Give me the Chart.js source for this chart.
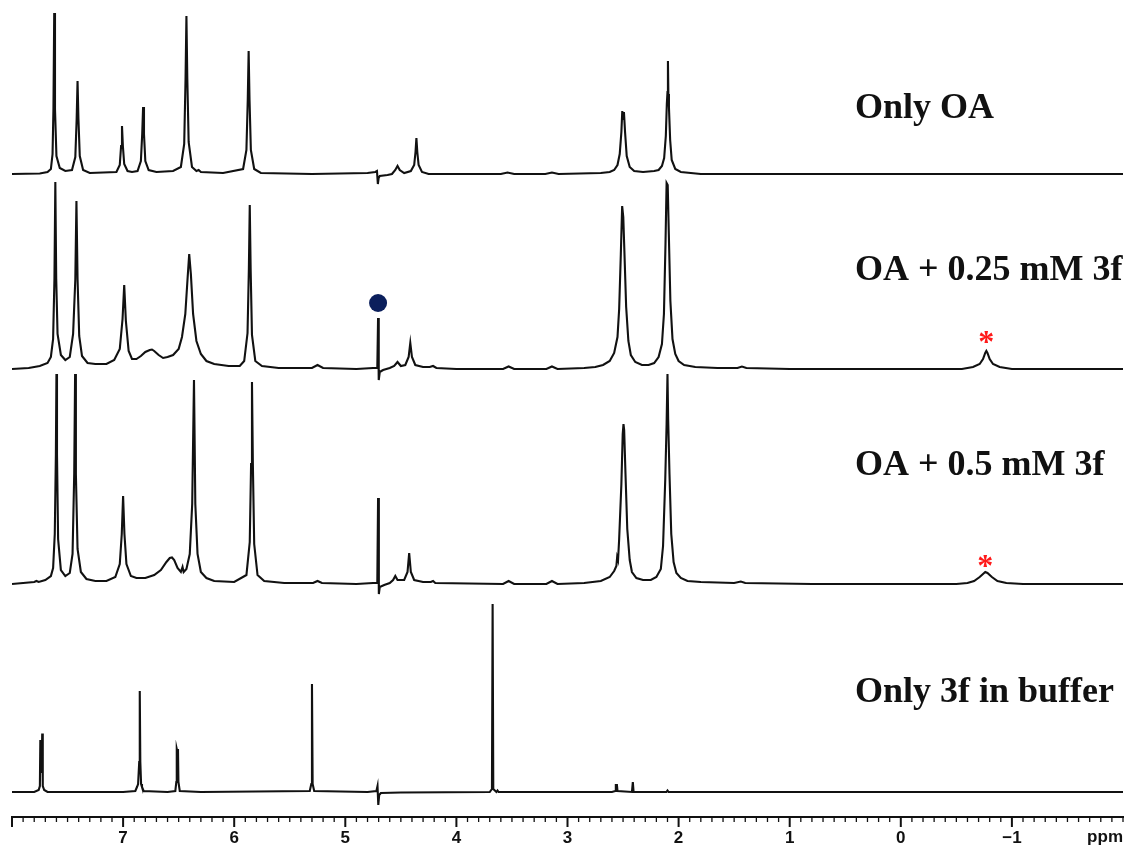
<!DOCTYPE html>
<html>
<head>
<meta charset="utf-8">
<title>1H NMR stack</title>
<script src="https://cdn.jsdelivr.net/npm/chart.js@4.4.0/dist/chart.umd.min.js"></script>
<style>
  html, body { margin: 0; padding: 0; background: #fff; }
  canvas { display: block; }
</style>
</head>
<body>
<canvas id="nmr" width="1135" height="852"></canvas>
<script>
'use strict';

// spectra as [ppm, intensity] vertices (top to bottom)
let onlyOA = [
  [8.00, 0], [7.75, 0.5], [7.68, 2], [7.65, 5], [7.635, 20], [7.627, 65], [7.62, 161], [7.613, 65], [7.60, 18], [7.57, 6], [7.52, 3],
  [7.46, 4], [7.43, 17], [7.418, 55], [7.41, 93], [7.402, 55], [7.39, 18], [7.36, 4], [7.30, 1],
  [7.06, 2], [7.03, 9], [7.018, 28], [7.01, 48], [7.002, 28], [6.99, 10], [6.96, 3], [6.92, 2],
  [6.87, 3], [6.84, 13], [6.828, 40], [6.82, 67], [6.812, 40], [6.80, 13], [6.77, 4], [6.70, 2], [6.55, 3],
  [6.48, 7], [6.45, 30], [6.438, 95], [6.43, 158], [6.422, 95], [6.41, 32], [6.38, 7], [6.34, 3], [6.32, 4], [6.30, 2], [6.10, 1],
  [5.92, 5], [5.89, 24], [5.878, 74], [5.87, 123], [5.862, 74], [5.85, 24], [5.82, 5], [5.76, 1],
  [5.30, 0], [4.80, 1], [4.73, 2], [4.715, 3], [4.707, -10], [4.70, -4], [4.69, -2], [4.62, -1],
  [4.58, 0], [4.55, 4], [4.53, 8], [4.51, 4], [4.47, 1],
  [4.41, 3], [4.38, 9], [4.368, 22], [4.36, 36], [4.352, 22], [4.34, 9], [4.31, 2], [4.25, 0],
  [3.60, 0], [3.54, 1.5], [3.48, 0], [3.20, 0], [3.14, 1.5], [3.08, 0],
  [2.70, 1], [2.62, 2], [2.58, 4], [2.55, 9], [2.53, 20], [2.515, 42], [2.507, 63], [2.499, 55], [2.492, 62], [2.482, 42], [2.467, 18], [2.44, 7], [2.40, 3], [2.32, 2], [2.22, 3],
  [2.18, 4], [2.15, 8], [2.13, 16], [2.115, 38], [2.106, 70], [2.10, 82], [2.096, 113], [2.092, 80], [2.087, 67], [2.076, 34], [2.062, 14], [2.03, 5], [1.98, 2], [1.80, 0],
  [1.40, 0], [-2.00, 0]
];

let oaLow = [
  [8.00, 0], [7.85, 1], [7.75, 3], [7.68, 6], [7.65, 12], [7.63, 30], [7.618, 90], [7.61, 187], [7.602, 90], [7.59, 35], [7.56, 14], [7.52, 9],
  [7.48, 12], [7.45, 35], [7.43, 90], [7.42, 168], [7.41, 90], [7.395, 33], [7.37, 13], [7.32, 6], [7.25, 5], [7.15, 5], [7.08, 9],
  [7.03, 20], [7.005, 50], [6.99, 84], [6.975, 48], [6.95, 18], [6.92, 10], [6.88, 10], [6.84, 13], [6.80, 17], [6.76, 19], [6.74, 19.5], [6.72, 18], [6.68, 14], [6.64, 11],
  [6.60, 12], [6.55, 14], [6.50, 20], [6.47, 32], [6.44, 55], [6.42, 90], [6.405, 115], [6.39, 95], [6.37, 55], [6.34, 28], [6.30, 15], [6.25, 8], [6.18, 5], [6.05, 3], [5.95, 3],
  [5.91, 8], [5.88, 36], [5.868, 100], [5.86, 164], [5.852, 100], [5.84, 34], [5.81, 8], [5.75, 3], [5.60, 1], [5.30, 1], [5.25, 4], [5.20, 1], [4.90, 0], [4.75, 1],
  [4.712, 1], [4.705, 51], [4.699, -11], [4.69, -3], [4.66, -1], [4.60, 1], [4.56, 3], [4.53, 7], [4.50, 3], [4.46, 4], [4.43, 12], [4.415, 26], [4.40, 12], [4.37, 4],
  [4.30, 2], [4.24, 2], [4.21, 3], [4.18, 1], [4.00, 0], [3.58, 0], [3.53, 2.5], [3.48, 0], [3.19, 0], [3.14, 2.5], [3.09, 0], [2.85, 1], [2.75, 2], [2.68, 4],
  [2.62, 8], [2.58, 16], [2.55, 32], [2.535, 60], [2.52, 115], [2.508, 163], [2.498, 152], [2.488, 118], [2.472, 62], [2.452, 28], [2.43, 14], [2.39, 7], [2.33, 4], [2.27, 4],
  [2.22, 6], [2.18, 12], [2.15, 25], [2.132, 55], [2.118, 125], [2.108, 186], [2.098, 184], [2.088, 135], [2.074, 68], [2.055, 30], [2.03, 15], [2.00, 8], [1.95, 4], [1.85, 2],
  [1.65, 1], [1.47, 1], [1.43, 2.5], [1.39, 1], [1.00, 0],
  [-0.55, 0], [-0.65, 2], [-0.71, 5], [-0.74, 10], [-0.76, 16], [-0.77, 18], [-0.78, 16], [-0.80, 10], [-0.83, 5], [-0.89, 2], [-1.00, 0], [-2.00, 0]
];

let oaHigh = [
  [8.00, 0], [7.90, 1], [7.80, 2], [7.78, 3], [7.76, 2], [7.70, 4], [7.65, 8], [7.63, 16], [7.615, 50], [7.605, 130], [7.60, 210], [7.595, 130], [7.585, 45], [7.56, 14], [7.52, 8],
  [7.48, 11], [7.455, 30], [7.44, 110], [7.432, 210], [7.425, 110], [7.41, 35], [7.38, 12], [7.33, 5], [7.25, 3], [7.15, 3],
  [7.07, 7], [7.03, 20], [7.012, 50], [7.00, 88], [6.988, 50], [6.97, 20], [6.93, 8], [6.88, 6], [6.80, 6], [6.72, 9], [6.66, 14], [6.61, 22], [6.58, 26], [6.56, 26.5], [6.54, 24],
  [6.51, 16], [6.48, 12], [6.465, 17], [6.455, 12], [6.43, 15], [6.40, 30], [6.378, 80], [6.362, 204], [6.35, 80], [6.33, 30], [6.30, 12], [6.25, 6], [6.18, 3], [6.00, 2],
  [5.89, 9], [5.86, 42], [5.848, 120], [5.84, 202], [5.832, 120], [5.82, 40], [5.79, 9], [5.73, 3], [5.55, 1], [5.29, 1], [5.25, 3], [5.21, 1], [4.90, 0], [4.75, 1],
  [4.712, 1], [4.705, 86], [4.698, -10], [4.69, -3], [4.65, -1], [4.60, 1], [4.57, 4], [4.55, 8], [4.53, 4], [4.47, 4], [4.44, 12], [4.425, 31], [4.41, 12], [4.38, 4],
  [4.30, 2], [4.23, 2], [4.21, 3], [4.19, 1], [3.58, 0], [3.53, 3], [3.48, 0], [3.19, 0], [3.14, 3], [3.09, 0], [2.85, 1], [2.70, 3], [2.62, 7], [2.58, 13],
  [2.56, 18], [2.553, 27], [2.545, 24], [2.535, 45], [2.515, 100], [2.503, 150], [2.496, 160], [2.49, 154], [2.478, 110], [2.462, 55], [2.44, 24], [2.42, 12], [2.38, 6], [2.32, 4], [2.25, 4],
  [2.20, 7], [2.16, 15], [2.14, 38], [2.12, 105], [2.108, 160], [2.10, 210], [2.094, 165], [2.082, 110], [2.066, 50], [2.045, 22], [2.02, 11], [1.98, 6], [1.92, 3], [1.80, 2],
  [1.50, 1], [1.44, 2.5], [1.40, 1], [0.80, 0],
  [-0.50, 0], [-0.60, 1], [-0.66, 3], [-0.71, 7], [-0.75, 11], [-0.76, 12], [-0.78, 11], [-0.82, 7], [-0.87, 3], [-0.95, 1], [-1.10, 0], [-2.00, 0]
];

let only3f = [
  [8.00, 0], [7.80, 0], [7.76, 2], [7.749, 6], [7.745, 52], [7.739, 20], [7.733, 20], [7.728, 58.5], [7.723, 6], [7.71, 2], [7.68, 0],
  [7.00, 0], [6.89, 1], [6.875, 5], [6.865, 8], [6.855, 30], [6.85, 101], [6.845, 30], [6.838, 8], [6.83, 5], [6.815, 1],
  [6.60, 0], [6.53, 1], [6.521, 10], [6.517, 43], [6.511, 40], [6.506, 43], [6.502, 10], [6.49, 1],
  [6.30, 0], [5.32, 1], [5.306, 8], [5.30, 108], [5.294, 8], [5.28, 1],
  [4.80, 0], [4.72, 1], [4.71, 6], [4.703, -13], [4.695, -3], [4.68, -1], [4.50, -0.5],
  [3.70, 0], [3.68, 3], [3.674, 188], [3.668, 3], [3.64, 0], [3.63, 1.5], [3.62, 0],
  [2.60, 0], [2.57, 1], [2.565, 7], [2.555, 7], [2.55, 1], [2.42, 0], [2.412, 10], [2.405, 0],
  [2.11, 0], [2.10, 1.5], [2.09, 0], [-2.00, 0]
];

let spectra = [onlyOA, oaLow, oaHigh, only3f];
let spectrumNames = ['Only OA', 'OA + 0.25 mM 3f', 'OA + 0.5 mM 3f', 'Only 3f in buffer'];

// x axis
let ppmMin = -2;
let ppmMax = 8;
let tickStep = 0.1;

// marked signals: water spike (dot) and the new peak (stars)
let dotMark = [4.705, 66];          // on spectrum 2
let starPpm = [-0.77, -0.76];       // on spectrum 2 and 3
let starHeight = [31, 22];

// layout (px above the axis line, 1 unit = 1 px)
let baselines = [643, 448, 233, 25];
let labelY = [106, 268, 463, 690];

let datasets = [];
for (let i = 0; i < spectra.length; i++) {
    datasets.push({
        label: spectrumNames[i],
        data: spectra[i].map(p => ({ x: p[0], y: p[1] + baselines[i] })),
        borderColor: '#111',
        borderWidth: 2.1,
        pointRadius: 0,
        tension: 0,
        fill: false
    });
}
datasets.push({
    type: 'scatter',
    label: 'dot',
    data: [{ x: dotMark[0], y: dotMark[1] + baselines[1] }],
    pointRadius: 9,
    pointBackgroundColor: '#0b1f5c',
    pointBorderWidth: 0
});

let decor = {
    id: 'decor',
    afterDraw(chart) {
        let ctx = chart.ctx;
        let xs = chart.scales.x;
        let ys = chart.scales.y;
        let axisY = chart.chartArea.bottom;
        ctx.save();
        ctx.strokeStyle = '#111';
        xs.ticks.forEach(t => {
            let v = t.value;
            let major = Math.abs(v - Math.round(v)) < 1e-6 && v > ppmMin + 0.01;
            let px = xs.getPixelForValue(v);
            ctx.lineWidth = major ? 2 : 1.3;
            ctx.beginPath();
            ctx.moveTo(px, axisY);
            ctx.lineTo(px, axisY + (major ? 10 : 5));
            ctx.stroke();
        });
        ctx.fillStyle = '#111';
        ctx.font = 'bold 17px "Liberation Sans", Arial, sans-serif';
        ctx.textAlign = 'right';
        ctx.textBaseline = 'middle';
        ctx.fillText('ppm', chart.chartArea.right, axisY + 20);

        // sample names
        ctx.font = 'bold 36px "Liberation Serif", "Times New Roman", serif';
        ctx.textAlign = 'left';
        ctx.textBaseline = 'alphabetic';
        for (let i = 0; i < spectrumNames.length; i++) {
            ctx.fillText(spectrumNames[i], 855, labelY[i] + 12);
        }

        // red asterisks
        ctx.fillStyle = '#ff1a1a';
        ctx.font = 'bold 32px "Liberation Serif", "Times New Roman", serif';
        ctx.textAlign = 'center';
        for (let i = 0; i < starPpm.length; i++) {
            let px = xs.getPixelForValue(starPpm[i]);
            let py = ys.getPixelForValue(starHeight[i] + baselines[i + 1]);
            ctx.fillText('*', px, py + 14);
        }
        ctx.restore();
    }
};

let ctx = document.getElementById('nmr').getContext('2d');
let nmrChart = new Chart(ctx, {
    type: 'line',
    data: { datasets: datasets },
    options: {
        responsive: false,
        animation: false,
        devicePixelRatio: 1,
        layout: { padding: { left: 12, right: 12, top: 0, bottom: 0 } },
        plugins: { legend: { display: false }, tooltip: { enabled: false } },
        scales: {
            x: {
                type: 'linear',
                reverse: true,
                min: ppmMin,
                max: ppmMax,
                afterFit: s => { s.height = 35; },
                grid: { display: false, drawTicks: false },
                border: { display: true, color: '#111', width: 2 },
                ticks: {
                    stepSize: tickStep,
                    autoSkip: false,
                    maxRotation: 0,
                    padding: 11,
                    color: '#111',
                    font: { family: '"Liberation Sans", Arial, sans-serif', size: 17, weight: 'bold' },
                    callback: v => {
                        let r = Math.round(v);
                        if (Math.abs(v - r) > 1e-6 || r === ppmMax || r === ppmMin) return '';
                        return r < 0 ? '\u2212' + Math.abs(r) : String(r);
                    }
                }
            },
            y: { display: false, min: 0, max: 808 }
        }
    },
    plugins: [decor]
});
</script>
</body>
</html>
